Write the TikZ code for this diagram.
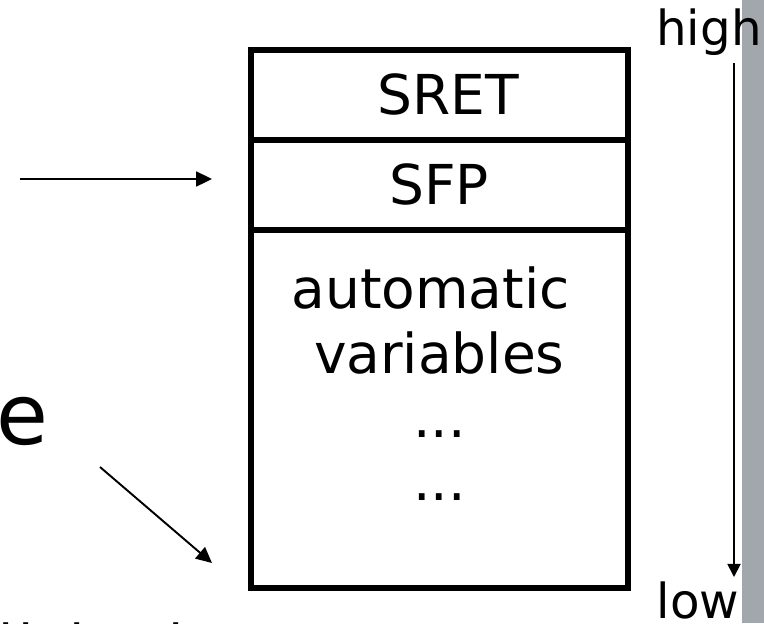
\documentclass[tikz,border=0pt]{standalone}
\usepackage{fontspec}
\setmainfont{DejaVu Sans}
\usepackage{tikz}
\usetikzlibrary{arrows.meta, positioning}
\definecolor{sidebar_gray}{RGB}{162,167,173}
\tikzset{
  stack_cell/.style={rectangle, draw=black, line width=3.4pt, minimum width=7.55cm, inner sep=0pt, outer sep=0pt, font=\fontsize{31.3}{37}\selectfont},
  cell_text/.style={inner sep=0pt, anchor=base, font=\fontsize{31.3}{37}\selectfont},
  side_label/.style={inner sep=0pt, anchor=base, font=\fontsize{27.5}{32}\selectfont},
  big_label/.style={inner sep=0pt, anchor=base west, font=\fontsize{48}{56}\selectfont},
  arrow/.style={-{Triangle[length=9pt, width=8.5pt]}, line width=1.1pt, black},
  thin_arrow/.style={-{Triangle[length=7.5pt, width=7.5pt]}, line width=1pt, black}
}

\begin{document}
\begin{tikzpicture}[x=0.02cm, y=-0.02cm]

  % --- Page frame ---
  \useasboundingbox (0,0) rectangle (764,623);
  \fill[sidebar_gray] (742,0) rectangle (764,623);

  % --- Geometry Definitions ---
  \def\xStack{439.25}
  \def\xDir{734}

  % --- Stack frame cells ---
  \node[stack_cell, minimum height=1.8cm] (sret) at (\xStack, 94.5) {\ SRET};
  \node[stack_cell, minimum height=1.8cm] (sfp) at (\xStack, 184.5) {SFP};
  \node[stack_cell, minimum height=7.18cm] (locals) at (\xStack, 409) {};

  \node[cell_text] (auto_1) at (430.5, 308) {automatic};
  \node[cell_text] (auto_2) at (\xStack, 373) {variables};
  \node[cell_text] (dots_1) at (\xStack, 437) {...};
  \node[cell_text] (dots_2) at (\xStack, 500) {...};

  % --- Pointers into the frame ---
  \coordinate (fp_tail) at (20, 179);
  \coordinate (fp_head) at (212, 179);
  \draw[arrow] (fp_tail) -- (fp_head);

  \node[big_label] (word_end) at (-4, 444) {e};
  \coordinate (buf_tail) at (100, 467);
  \coordinate (buf_head) at (212, 563);
  \draw[arrow] (buf_tail) -- (buf_head);

  % --- Cut-off text at the bottom ---
  \foreach \x [count=\k] in {2, 22, 73, 172} {
    \node[cell_text, anchor=base west] (cut_\k) at (\x-4, 664) {i};
  }

  % --- Address direction ---
  \node[side_label] (high) at (709, 45) {high};
  \node[side_label] (low) at (698, 618) {low};
  \coordinate (dir_top) at (\xDir, 63);
  \coordinate (dir_bottom) at (\xDir, 577);
  \draw[thin_arrow] (dir_top) -- (dir_bottom);

\end{tikzpicture}
\end{document}
